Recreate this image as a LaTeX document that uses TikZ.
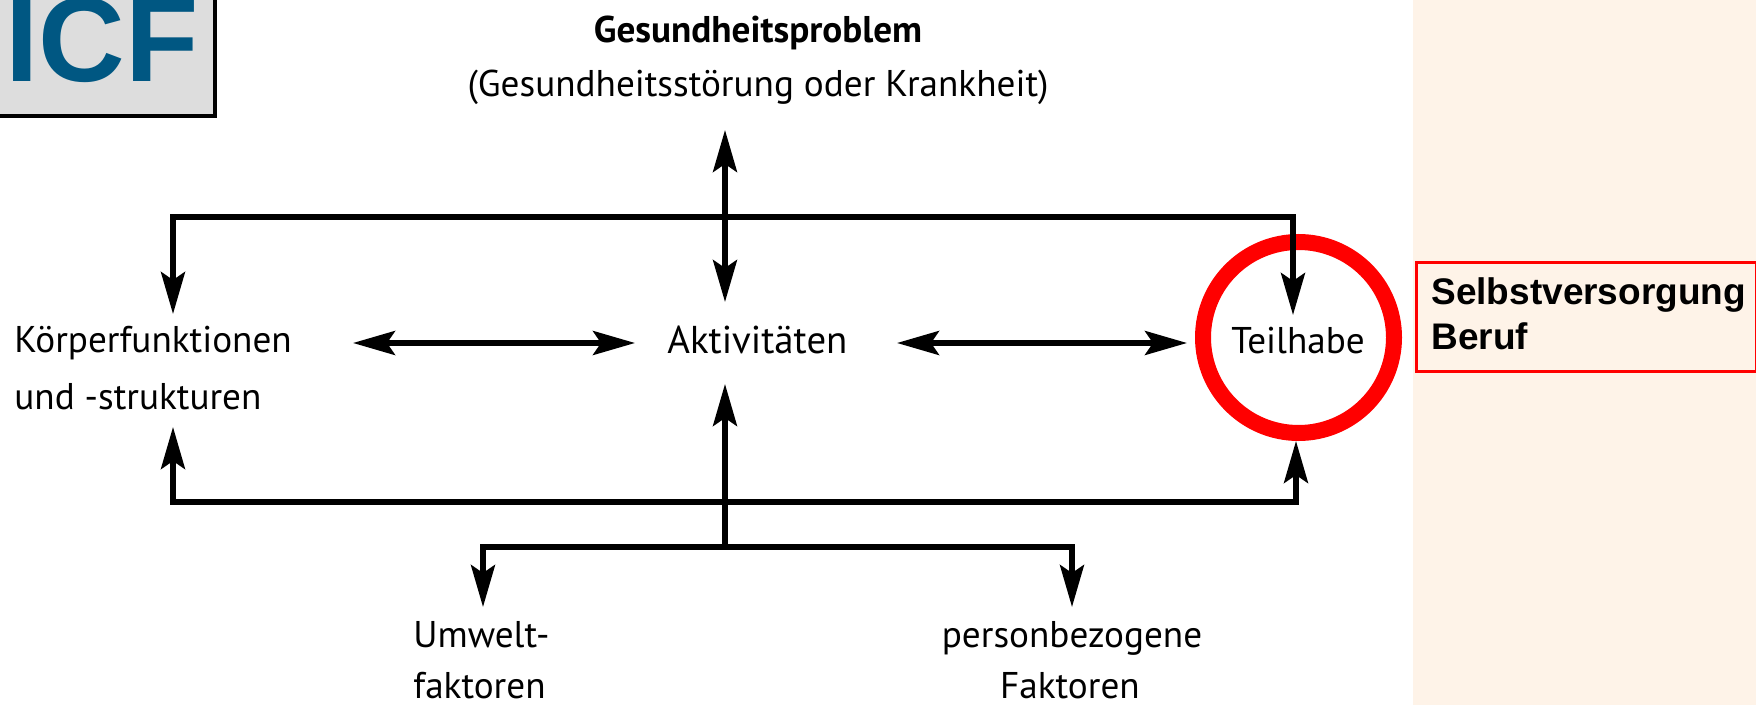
\documentclass[tikz,border=0pt]{standalone}
\usepackage{fontspec}
\setmainfont{PT Sans}
\newfontfamily\arialfont{Liberation Sans}
\usetikzlibrary{arrows.meta}
\definecolor{beige}{RGB}{254,243,232}
\definecolor{icfgray}{RGB}{221,221,221}
\definecolor{icfblue}{RGB}{0,87,130}
\definecolor{ringred}{RGB}{255,0,0}
\begin{document}
\begin{tikzpicture}[x=0.5pt,y=-0.5pt,
  lbl/.style={anchor=base west,inner sep=0pt,font=\fontsize{18.6}{22}\selectfont},
  clbl/.style={anchor=base,inner sep=0pt,font=\fontsize{18.6}{22}\selectfont},
  both/.style={line width=2.6pt,{Stealth[length=21pt,width=12pt,inset=4pt]}-{Stealth[length=21pt,width=12pt,inset=4pt]}},
  single/.style={line width=2.6pt,-{Stealth[length=21pt,width=12pt,inset=4pt]}},
  boxtext/.style={anchor=base west,inner sep=0pt,font=\arialfont\bfseries\fontsize{18.5}{22}\selectfont}]
\useasboundingbox (0,0) rectangle (1756,705);
\fill[white] (0,0) rectangle (1756,705);
\fill[beige] (1413,0) rectangle (1756,705);

% ICF badge
\draw[fill=icfgray,line width=2pt] (-10,-10) rectangle (215,116);
\node[anchor=base west,inner sep=0pt,text=icfblue,font=\arialfont\bfseries\fontsize{60}{60}\selectfont] (icf) at (5,82) {ICF};

% labels
\node[clbl,font=\bfseries\fontsize{18.6}{22}\selectfont] (gp) at (758,43) {Gesundheitsproblem};
\node[clbl] (gs) at (758,97) {(Gesundheitsstörung oder Krankheit)};
\node[lbl] (kf1) at (14,353) {Körperfunktionen};
\node[lbl] (kf2) at (14,410) {und -strukturen};
\node[lbl,font=\fontsize{19.4}{22}\selectfont] (akt) at (667,354) {Aktivitäten};
\node[lbl] (teil) at (1231,354) {Teilhabe};
\node[lbl] (um1) at (413,647) {Umwelt-};
\node[lbl] (um2) at (413,698) {faktoren};
\node[clbl] (pb1) at (1072,647) {personbezogene};
\node[clbl] (pb2) at (1070,698) {Faktoren};

% ring around Teilhabe
\node[circle,draw=ringred,line width=8pt,minimum size=95.5pt,inner sep=0pt] (ring) at (1298.5,337.5) {};

% side box
\node[draw=ringred,line width=1.5pt,fill=beige,anchor=north west,minimum width=170pt,minimum height=54.5pt,inner sep=0pt] (sbox) at (1414.5,261.5) {};
\node[boxtext] (sv) at (1431,305) {Selbstversorgung};
\node[boxtext] (bf) at (1431,350) {Beruf};

% connector end points
\coordinate (gpTip) at (725,130);
\coordinate (aktTop) at (725,302);
\coordinate (kTop) at (173,314);
\coordinate (tTopCorner) at (1293,217);
\coordinate (tTop) at (1293,315);
\coordinate (kBot) at (173,427);
\coordinate (bCorner) at (1296,502);
\coordinate (tBot) at (1296,441);
\coordinate (aktBot) at (725,384);
\coordinate (junc) at (725,547);
\coordinate (umTip) at (483,607);
\coordinate (pbCorner) at (1072,547);
\coordinate (pbTip) at (1072,607);
\coordinate (kRight) at (353,343);
\coordinate (aLeft) at (635,343);
\coordinate (aRight) at (897,343);
\coordinate (tLeft) at (1187,343);

% connectors
\draw[both] (gpTip) -- (aktTop);
\draw[both] (kTop) |- (tTopCorner) -- (tTop);
\draw[both] (kBot) |- (bCorner) -- (tBot);
\draw[both] (kRight) -- (aLeft);
\draw[both] (aRight) -- (tLeft);
\draw[single] (junc) -- (aktBot);
\draw[both] (umTip) |- (pbCorner) -- (pbTip);
\end{tikzpicture}
\end{document}
